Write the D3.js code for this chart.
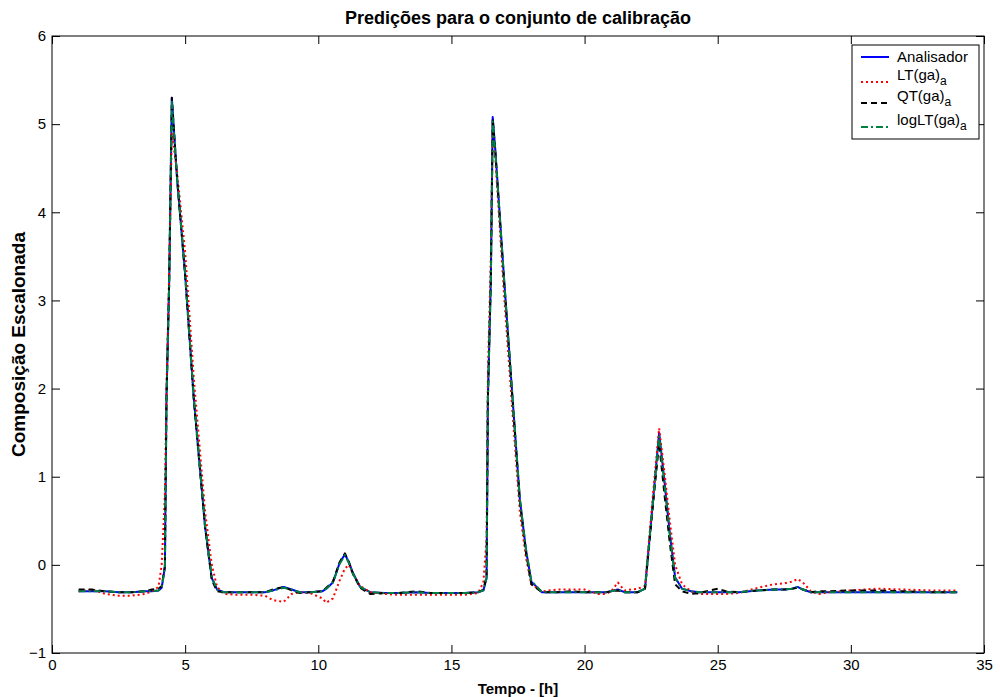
<!DOCTYPE html>
<html><head><meta charset="utf-8">
<script src="https://cdn.jsdelivr.net/npm/d3@7"></script>
<style>body{margin:0;background:#fff}</style>
</head><body><svg id="c" width="1000" height="697"></svg>
<script>
const titleText = "Predições para o conjunto de calibração";
const xLabelText = "Tempo - [h]";
const yLabelText = "Composição Escalonada";
const xTicks = [0, 5, 10, 15, 20, 25, 30, 35];
const yTicks = [-1, 0, 1, 2, 3, 4, 5, 6];

const time = [
  1.0, 1.5, 2.0, 2.5, 3.0, 3.5, 3.75, 4.0, 4.12, 4.24,
  4.3, 4.4, 4.5, 4.7, 5.0, 5.33, 5.75, 6.0, 6.2, 6.45,
  7.0, 7.5, 8.0, 8.3, 8.7, 9.0, 9.3, 9.7, 10.15, 10.3,
  10.55, 10.8, 11.0, 11.15, 11.3, 11.57, 11.95, 12.5, 13.0, 13.7,
  14.2, 15.0, 15.5, 16.0, 16.2, 16.32, 16.37, 16.48, 16.55, 16.65,
  16.98, 17.3, 17.57, 17.8, 18.0, 18.4, 19.0, 19.5, 20.0, 20.5,
  20.8, 21.0, 21.25, 21.5, 22.0, 22.27, 22.57, 22.8, 23.0, 23.2,
  23.4, 23.66, 24.0, 24.3, 25.0, 25.3, 25.8, 26.5, 27.1, 27.5,
  27.8, 28.0, 28.2, 28.5, 28.8, 29.2, 30.0, 31.0, 32.0, 33.0,
  34.0
];
const analisador = [
  -0.30, -0.30, -0.30, -0.31, -0.31, -0.30, -0.30, -0.29, -0.26, -0.02,
  1.90, 3.20, 5.30, 4.37, 3.30, 1.87, 0.43, -0.15, -0.28, -0.31,
  -0.31, -0.31, -0.31, -0.29, -0.25, -0.28, -0.31, -0.31, -0.30, -0.27,
  -0.20, 0.02, 0.12, 0.03, -0.09, -0.25, -0.31, -0.32, -0.32, -0.31,
  -0.32, -0.32, -0.32, -0.31, -0.29, -0.15, 1.90, 3.23, 5.08, 4.70,
  3.23, 1.87, 0.74, 0.17, -0.19, -0.31, -0.31, -0.31, -0.31, -0.31,
  -0.31, -0.30, -0.28, -0.31, -0.31, -0.27, 0.73, 1.50, 0.95, 0.36,
  -0.14, -0.27, -0.30, -0.31, -0.31, -0.31, -0.31, -0.29, -0.28, -0.28,
  -0.27, -0.25, -0.28, -0.31, -0.31, -0.31, -0.31, -0.31, -0.31, -0.31,
  -0.31
];
const ltGa = [
  -0.30, -0.28, -0.33, -0.35, -0.35, -0.33, -0.30, -0.25, 0.00, 0.80,
  2.00, 3.30, 4.90, 4.45, 3.55, 2.10, 0.60, 0.00, -0.25, -0.33,
  -0.34, -0.34, -0.35, -0.40, -0.42, -0.33, -0.31, -0.32, -0.38, -0.43,
  -0.38, -0.18, -0.04, 0.00, -0.10, -0.24, -0.31, -0.33, -0.34, -0.34,
  -0.34, -0.34, -0.34, -0.32, -0.20, 0.30, 2.20, 3.50, 5.00, 4.60,
  3.05, 1.70, 0.60, 0.08, -0.22, -0.30, -0.28, -0.28, -0.28, -0.33,
  -0.33, -0.30, -0.20, -0.29, -0.27, -0.24, 0.80, 1.55, 1.05, 0.50,
  0.00, -0.22, -0.30, -0.33, -0.33, -0.33, -0.32, -0.26, -0.22, -0.21,
  -0.19, -0.16, -0.20, -0.30, -0.33, -0.31, -0.29, -0.27, -0.28, -0.29,
  -0.29
];
const qtGa = [
  -0.28, -0.28, -0.30, -0.31, -0.31, -0.30, -0.28, -0.27, -0.24, -0.02,
  1.90, 3.20, 5.30, 4.37, 3.28, 1.85, 0.42, -0.17, -0.30, -0.31,
  -0.31, -0.31, -0.31, -0.28, -0.25, -0.29, -0.32, -0.31, -0.30, -0.26,
  -0.19, 0.03, 0.13, 0.03, -0.10, -0.26, -0.33, -0.32, -0.32, -0.30,
  -0.32, -0.32, -0.32, -0.31, -0.28, -0.13, 1.90, 3.23, 5.06, 4.68,
  3.20, 1.85, 0.72, 0.14, -0.22, -0.31, -0.31, -0.30, -0.31, -0.31,
  -0.31, -0.30, -0.29, -0.31, -0.31, -0.27, 0.68, 1.38, 0.80, 0.25,
  -0.22, -0.30, -0.33, -0.32, -0.27, -0.30, -0.31, -0.29, -0.28, -0.28,
  -0.27, -0.26, -0.28, -0.31, -0.30, -0.30, -0.29, -0.29, -0.30, -0.31,
  -0.31
];
const logLtGa = [
  -0.30, -0.30, -0.30, -0.31, -0.31, -0.30, -0.30, -0.29, -0.26, -0.03,
  1.88, 3.18, 5.25, 4.37, 3.30, 1.88, 0.44, -0.14, -0.28, -0.31,
  -0.31, -0.31, -0.31, -0.29, -0.26, -0.28, -0.31, -0.31, -0.30, -0.27,
  -0.20, 0.01, 0.11, 0.02, -0.10, -0.25, -0.31, -0.32, -0.32, -0.31,
  -0.32, -0.32, -0.32, -0.31, -0.29, -0.15, 1.88, 3.22, 5.03, 4.68,
  3.23, 1.88, 0.75, 0.18, -0.18, -0.31, -0.31, -0.31, -0.31, -0.31,
  -0.31, -0.30, -0.28, -0.31, -0.31, -0.27, 0.72, 1.46, 0.92, 0.34,
  -0.15, -0.27, -0.30, -0.31, -0.31, -0.31, -0.31, -0.29, -0.28, -0.28,
  -0.27, -0.25, -0.28, -0.31, -0.31, -0.31, -0.31, -0.31, -0.31, -0.31,
  -0.31
];

const seriesNames = ["Analisador", "LT(ga)", "QT(ga)", "logLT(ga)"];
const seriesSubs = ["", "a", "a", "a"];
const seriesValues = [analisador, ltGa, qtGa, logLtGa];
const seriesColors = ["#0000ff", "#ff0000", "#000000", "#008040"];
const seriesDash = [null, "2,3", "6,4", "7,3,2,3"];

const svg = d3.select("#c");
const font = "'Liberation Sans', Arial, Helvetica, sans-serif";
const L = 52, R = 984, T = 36, B = 653;
const x = d3.scaleLinear().domain([0, 35]).range([L, R]);
const y = d3.scaleLinear().domain([-1, 6]).range([B, T]);

svg.append("rect").attr("width", 1000).attr("height", 697).attr("fill", "#fff");

// series
const line = d3.line().x(d => x(d[0])).y(d => y(d[1]));
seriesValues.forEach((vals, i) => {
  const pts = time.map((t, k) => [t, vals[k]]);
  svg.append("path").datum(pts)
    .attr("d", line)
    .attr("fill", "none")
    .attr("stroke", seriesColors[i])
    .attr("stroke-width", 2)
    .attr("stroke-linejoin", "round")
    .attr("stroke-dasharray", seriesDash[i]);
});

// axes
const tickLen = 8;
const fmt = d3.format("d");
const gB = svg.append("g").attr("transform", `translate(0,${B})`)
  .call(d3.axisBottom(x).tickValues(xTicks).tickFormat(fmt).tickSizeInner(-tickLen).tickSizeOuter(0).tickPadding(6));
const gT = svg.append("g").attr("transform", `translate(0,${T})`)
  .call(d3.axisTop(x).tickValues(xTicks).tickSizeInner(-tickLen).tickSizeOuter(0).tickFormat(""));
const gL = svg.append("g").attr("transform", `translate(${L},0)`)
  .call(d3.axisLeft(y).tickValues(yTicks).tickFormat(fmt).tickSizeInner(-tickLen).tickSizeOuter(0).tickPadding(6));
const gR = svg.append("g").attr("transform", `translate(${R},0)`)
  .call(d3.axisRight(y).tickValues(yTicks).tickSizeInner(-tickLen).tickSizeOuter(0).tickFormat(""));
[gB, gT, gL, gR].forEach(g => {
  g.select(".domain").remove();
  g.selectAll("line").attr("stroke", "#000");
  g.selectAll("text").attr("font-family", font).attr("font-size", 15).attr("fill", "#000");
});
svg.append("rect").attr("x", L).attr("y", T).attr("width", R - L).attr("height", B - T)
  .attr("fill", "none").attr("stroke", "#000").attr("stroke-width", 1);

// labels
svg.append("text").attr("x", (L + R) / 2).attr("y", 24).attr("text-anchor", "middle")
  .attr("font-family", font).attr("font-size", 18).attr("font-weight", "bold").text(titleText);
svg.append("text").attr("x", (L + R) / 2).attr("y", 694).attr("text-anchor", "middle")
  .attr("font-family", font).attr("font-size", 15).attr("font-weight", "bold").text(xLabelText);
svg.append("text").attr("transform", `translate(25,${(T + B) / 2}) rotate(-90)`).attr("text-anchor", "middle")
  .attr("font-family", font).attr("font-size", 19).attr("font-weight", "bold").text(yLabelText);

// legend
const lg = svg.append("g");
lg.append("rect").attr("x", 852).attr("y", 45).attr("width", 127).attr("height", 94)
  .attr("fill", "#fff").attr("stroke", "#000");
const entryY = [57, 82, 103, 127];
const textY = [62, 80, 101, 125];
seriesNames.forEach((name, i) => {
  lg.append("line").attr("x1", 861).attr("x2", 889).attr("y1", entryY[i]).attr("y2", entryY[i])
    .attr("stroke", seriesColors[i]).attr("stroke-width", 2).attr("stroke-dasharray", seriesDash[i]);
  const t = lg.append("text").attr("x", 897).attr("y", textY[i])
    .attr("font-family", font).attr("font-size", 15);
  t.append("tspan").text(name);
  if (seriesSubs[i]) t.append("tspan").attr("dy", 5).attr("font-size", 12).text(seriesSubs[i]);
});
</script></body></html>
